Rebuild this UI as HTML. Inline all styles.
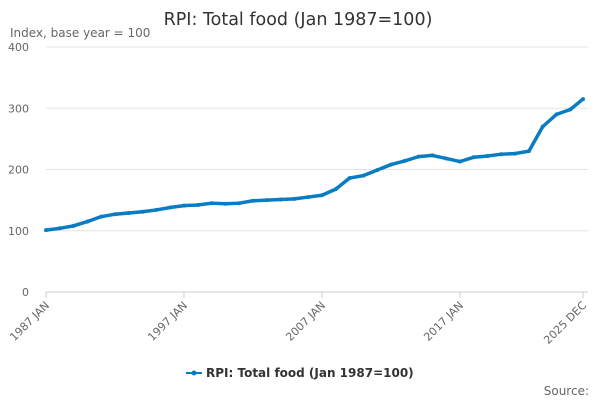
<!DOCTYPE html>
<html><head><meta charset="utf-8"><style>
body{margin:0;background:#fff;font-family:"Liberation Sans","DejaVu Sans",sans-serif}
svg text{font-family:"DejaVu Sans","Liberation Sans",sans-serif}
</style></head><body>
<svg id="c" width="600" height="400">
<text x="298" y="25" text-anchor="middle" font-size="17.5" fill="#333">RPI: Total food (Jan 1987=100)</text>
<text x="10" y="37" font-size="12" fill="#666">Index, base year = 100</text>
<text x="589" y="395" text-anchor="end" font-size="12" fill="#666">Source:</text>
<g id="legend">
<line x1="186" y1="373" x2="202" y2="373" stroke="#0a7cc2" stroke-width="2"/>
<circle cx="194" cy="373" r="2.5" fill="#0a7cc2"/>
<text x="206" y="377" font-size="12" font-weight="bold" fill="#333">RPI: Total food (Jan 1987=100)</text>
</g>
</svg>
<script>
const years=[1987,1988,1989,1990,1991,1992,1993,1994,1995,1996,1997,1998,1999,2000,2001,2002,2003,2004,2005,2006,2007,2008,2009,2010,2011,2012,2013,2014,2015,2016,2017,2018,2019,2020,2021,2022,2023,2024,2025,2025.92];
const values=[101,104,108,115,123,127,129,131,134,138,141,142,145,144,145,149,150,151,152,155,158,168,186,190,199,208,214,221,223,218,213,220,222,225,226,230,270,290,298,315];
const yTicks=[0,100,200,300,400];
const xTicks=[{v:1987,l:"1987 JAN"},{v:1997,l:"1997 JAN"},{v:2007,l:"2007 JAN"},{v:2017,l:"2017 JAN"},{v:2025.92,l:"2025 DEC"}];
const svg=document.getElementById('c');const NS="http://www.w3.org/2000/svg";
const X0=46,X1=583,Y0=292,Y1=47;
const xs=v=>X0+(v-1987)/(2025.92-1987)*(X1-X0);
const ys=v=>Y0-v/400*(Y0-Y1);
function mk(t,a){const e=document.createElementNS(NS,t);for(const k in a)e.setAttribute(k,a[k]);svg.appendChild(e);return e;}
yTicks.forEach(t=>{
 const g=mk('line',{x1:X0,x2:X1+5,y1:ys(t),y2:ys(t),stroke:t===0?'#ccc':'#e3e3e3'});
 
 
 const tx=mk('text',{x:29,y:ys(t)+4,'text-anchor':'end','font-size':11,fill:'#666'});tx.textContent=t;
 
 
});
xTicks.forEach(t=>{
 const x=xs(t.v);
 const l=mk('line',{x1:x,x2:x,y1:Y0,y2:Y0+6,stroke:'#ccc'});
 
 
 const tx=mk('text',{x:x+4,y:Y0+14,'text-anchor':'end','font-size':11,fill:'#666',transform:`rotate(-45 ${x+4} ${Y0+14})`});tx.textContent=t.l;
 
 
});
const p=mk('path',{d:values.map((v,i)=>(i?'L':'M')+xs(years[i])+' '+ys(v)).join(''),fill:'none',stroke:'#0a7cc2','stroke-width':3.5,'stroke-linejoin':'round'});


values.forEach((v,i)=>{const c=mk('circle',{cx:xs(years[i]),cy:ys(v),r:2,fill:'#0a7cc2'});
 
 });
</script>
</body></html>
